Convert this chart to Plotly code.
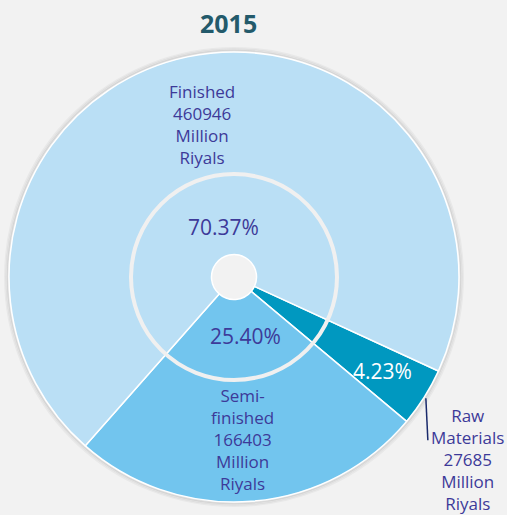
import math
import plotly.graph_objects as go

# ---- data ----
categories = ["Raw Materials", "Semi-finished", "Finished"]
values = [27685, 166403, 460946]
percent_labels = ["4.23%", "25.40%", "70.37%"]
label_lines = [
    ["Raw", "Materials", "27685", "Million", "Riyals"],
    ["Semi-", "finished", "166403", "Million", "Riyals"],
    ["Finished", "460946", "Million", "Riyals"],
]
title_text = "2015"

# ---- style ----
W, H = 507, 515
CX, CY, R = 234, 277, 225
ROT = 114.7
colors = ["#0098C0", "#72C5EE", "#BADFF5"]
text_color = "#3D3A99"
bg = "#F2F2F2"
font_family = "Open Sans, Noto Sans, sans-serif"


def to_paper(px, py):
    return px / W, 1 - py / H


def polar(angle_deg, r):
    a = math.radians(angle_deg)
    return CX + r * math.sin(a), CY - r * math.cos(a)


def circle(r, **kw):
    return dict(type="circle", xref="paper", yref="paper",
                x0=(CX - r) / W, x1=(CX + r) / W, y0=1 - (CY + r) / H, y1=1 - (CY - r) / H, **kw)


fig = go.Figure()
fig.add_trace(go.Pie(
    labels=categories,
    values=values,
    sort=False,
    direction="clockwise",
    rotation=ROT,
    hole=0.1,
    textinfo="none",
    hoverinfo="none",
    marker=dict(colors=colors, line=dict(color="white", width=1.5)),
    domain=dict(x=[(CX - R) / W, (CX + R) / W], y=[1 - (CY + R) / H, 1 - (CY - R) / H]),
    showlegend=False,
))

# mid angles of slices
total = sum(values)
mids = []
acc = ROT
for v in values:
    span = v / total * 360
    mids.append(acc + span / 2)
    acc += span

annotations = []
# percentages: raw, semi, finished
pct_pos = [(mids[0], 176), (mids[1] - 7, 60), (mids[2], 51)]
pct_colors = ["white", text_color, text_color]
for i in range(3):
    px, py = polar(*pct_pos[i])
    x, y = to_paper(px, py)
    annotations.append(dict(x=x, y=y, xref="paper", yref="paper", text=percent_labels[i],
                            xanchor="center", yanchor="middle",
                            showarrow=False, font=dict(size=21, color=pct_colors[i], family=font_family)))

# category labels
lab_pos = [(128, 296), (mids[1] + 1.5, 163), (mids[2], 156)]
for i in range(3):
    px, py = polar(*lab_pos[i])
    x, y = to_paper(px, py)
    annotations.append(dict(x=x, y=y, xref="paper", yref="paper", text="<br>".join(label_lines[i]),
                            xanchor="center", yanchor="middle",
                            showarrow=False, align="center",
                            font=dict(size=17, color=text_color, family=font_family)))

annotations.append(dict(x=228 / W, y=1 - 23 / H, xref="paper", yref="paper", text="<b>" + title_text + "</b>",
                        xanchor="center", yanchor="middle",
                        showarrow=False, font=dict(size=25, color="#235A6B", family=font_family)))

shapes = []
# soft shadow around the outer edge
for k, a in [(4, 0.04), (2.5, 0.06), (1.2, 0.08)]:
    shapes.append(circle(R + k, line=dict(color=f"rgba(0,0,0,{a})", width=2), layer="below"))
# white inner ring
shapes.append(circle(103, line=dict(color="#F0F0F0", width=4), layer="above"))
# leader line for raw materials
lx0, ly0 = polar(mids[0], 227)
shapes.append(dict(type="line", xref="paper", yref="paper",
                   x0=lx0 / W, y0=1 - ly0 / H, x1=(lx0 + 2) / W, y1=1 - (ly0 + 42) / H,
                   line=dict(color="#1A2A6C", width=1.5), layer="above"))

fig.update_layout(
    width=W, height=H,
    margin=dict(l=0, r=0, t=0, b=0),
    paper_bgcolor=bg, plot_bgcolor=bg,
    annotations=annotations,
    shapes=shapes,
)

fig.write_html("out.html", config={"displayModeBar": False},
               post_script="document.body.style.margin='0';document.body.style.overflow='hidden';")
